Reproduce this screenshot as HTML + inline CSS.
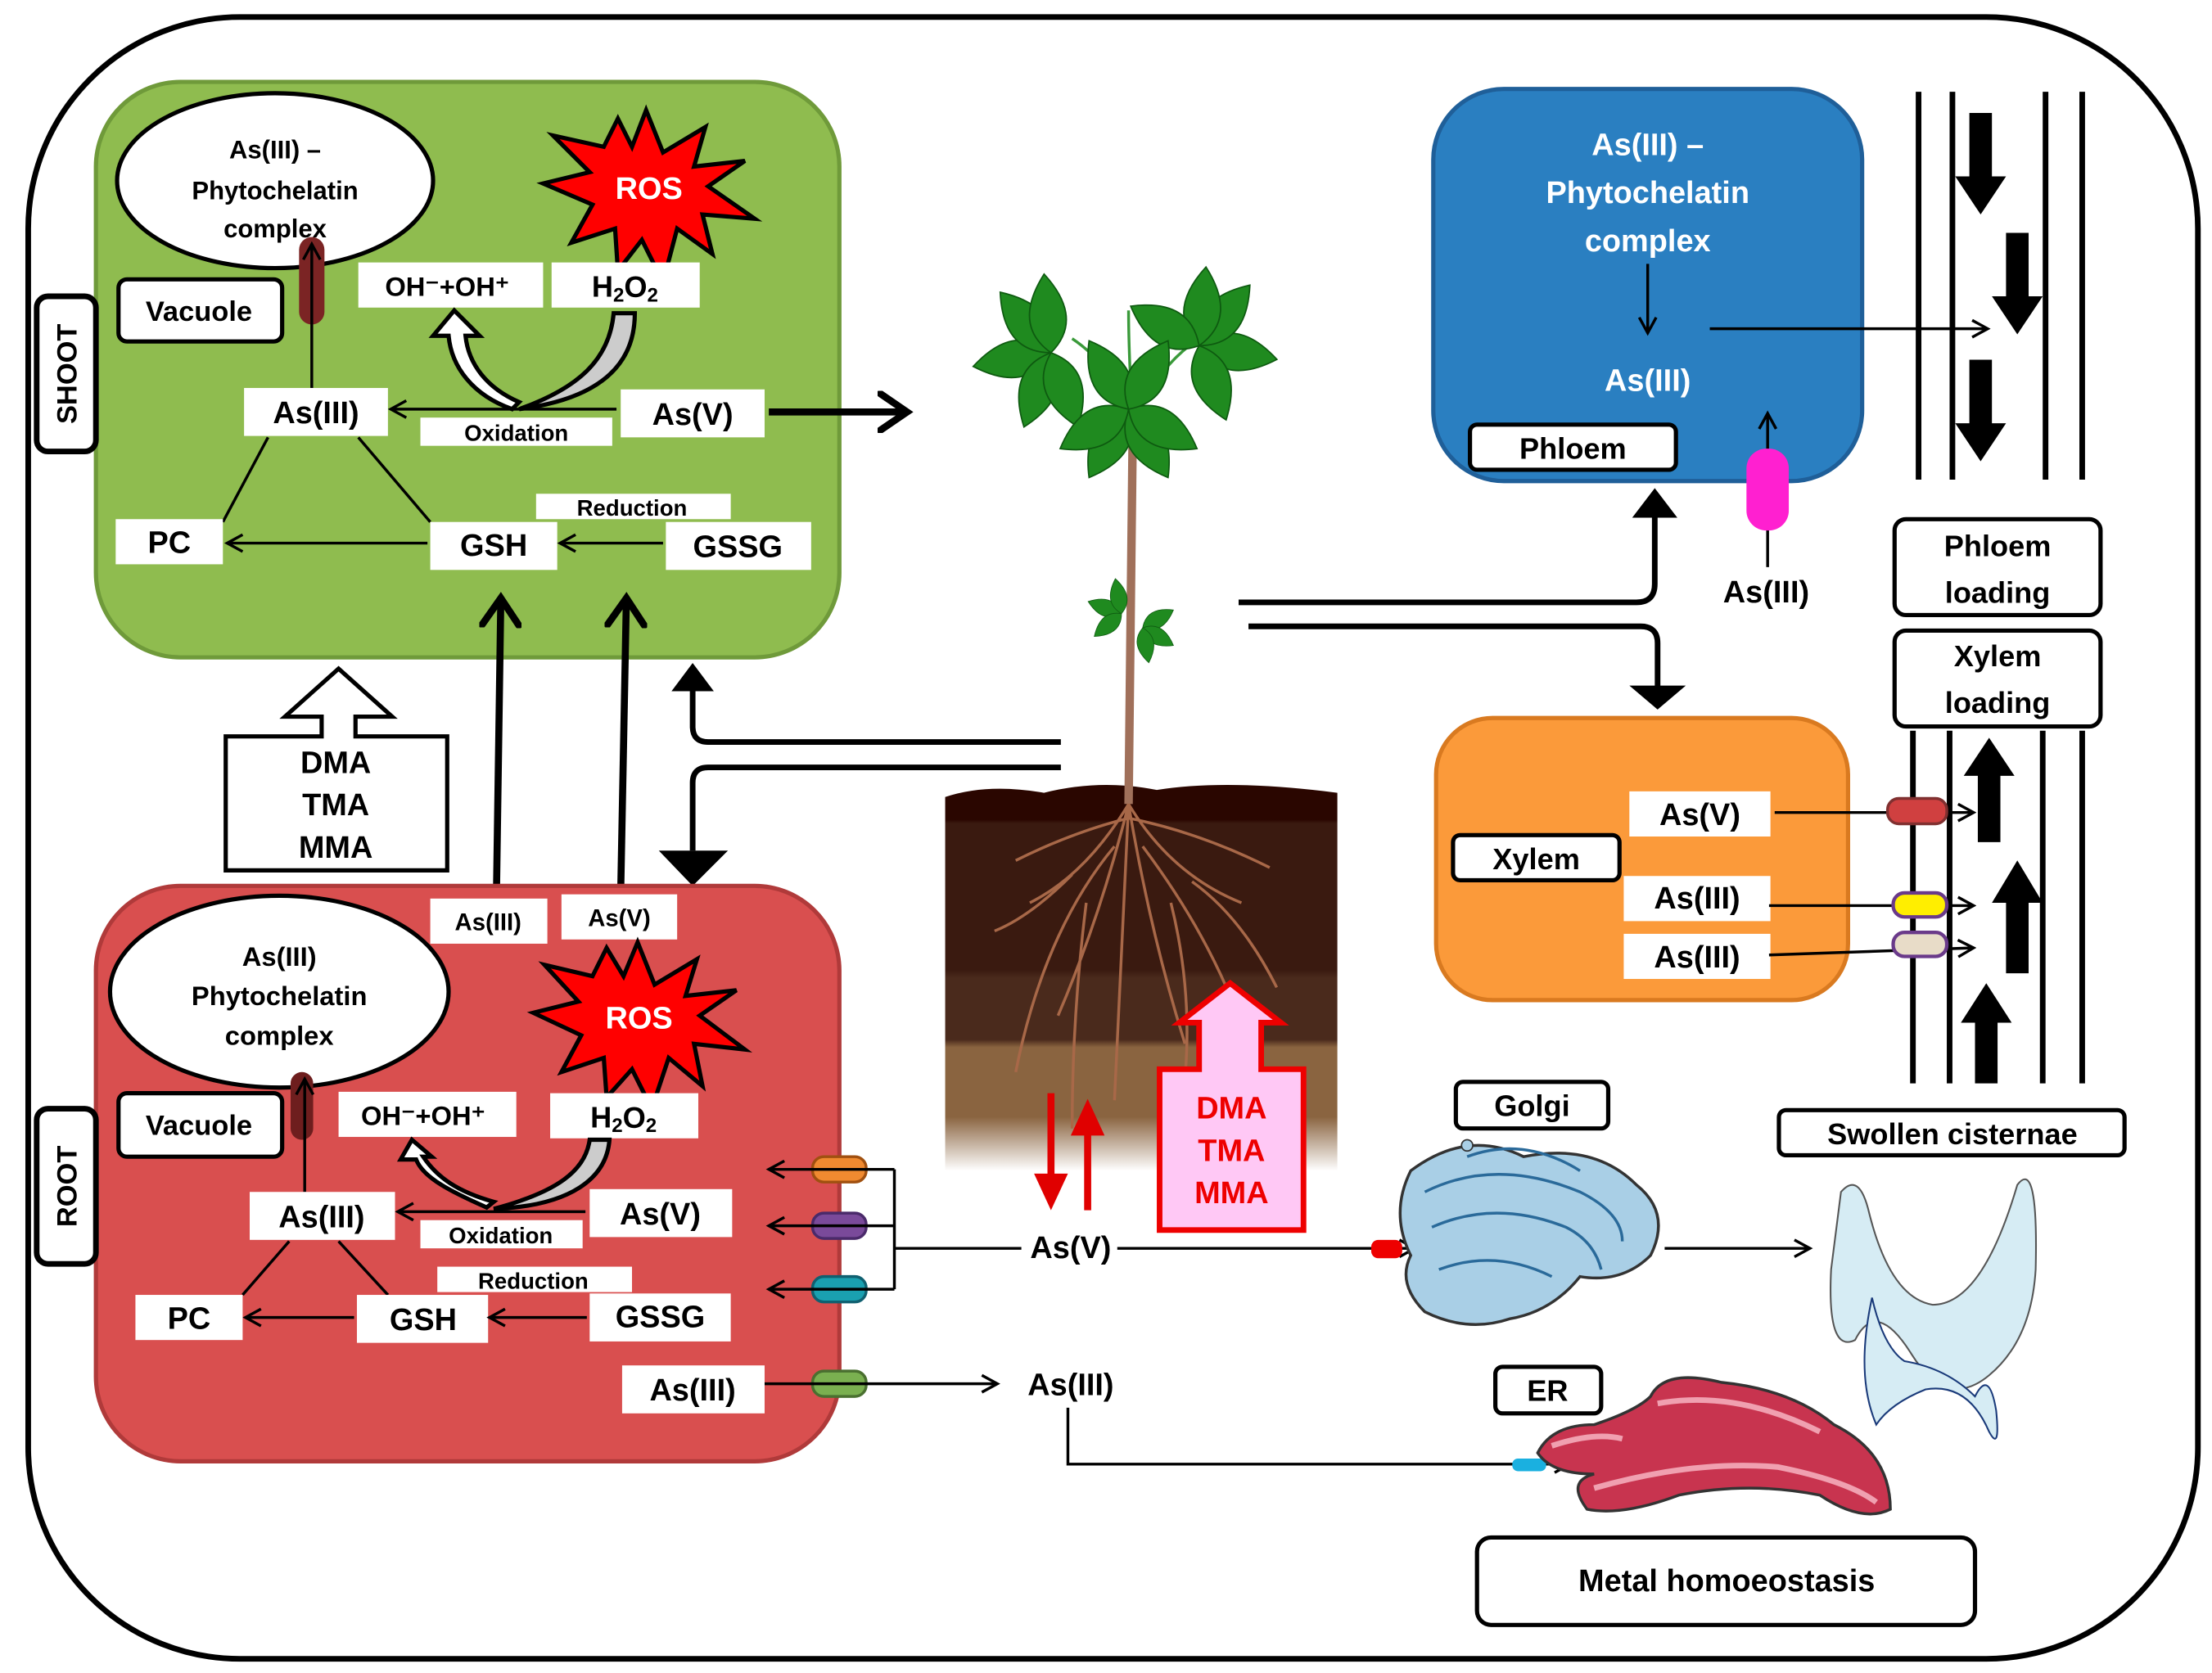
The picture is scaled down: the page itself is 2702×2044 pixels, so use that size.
<!DOCTYPE html>
<html><head><meta charset="utf-8"><style>
html,body{margin:0;padding:0;background:#fff}
svg{display:block}
text{font-family:"Liberation Sans",sans-serif;font-weight:bold;text-anchor:middle;dominant-baseline:central}
</style></head><body>
<svg width="2702" height="2044" viewBox="0 0 1568 1186" xmlns="http://www.w3.org/2000/svg">
<defs>
<marker id="ah" markerWidth="14" markerHeight="14" refX="11" refY="7" orient="auto" markerUnits="userSpaceOnUse"><path d="M1,1 L12,7 L1,13" fill="none" stroke="#000" stroke-width="2"/></marker>
<marker id="ahb" markerWidth="26" markerHeight="30" refX="20" refY="15" orient="auto" markerUnits="userSpaceOnUse"><path d="M2,2 L21,15 L2,28" fill="none" stroke="#000" stroke-width="5" stroke-linecap="round"/></marker>
<marker id="ahr" markerWidth="30" markerHeight="30" refX="15" refY="15" orient="auto" markerUnits="userSpaceOnUse"><path d="M2,3 L28,15 L2,27 Z" fill="#e00000"/></marker>
<linearGradient id="soil" x1="0" y1="0" x2="0" y2="1">
<stop offset="0" stop-color="#2a0600"/><stop offset="0.09" stop-color="#2a0600"/>
<stop offset="0.1" stop-color="#3a1a10"/><stop offset="0.48" stop-color="#3a1a10"/>
<stop offset="0.5" stop-color="#4a2a1c"/><stop offset="0.66" stop-color="#4a2a1c"/>
<stop offset="0.68" stop-color="#8a6440"/><stop offset="0.86" stop-color="#8a6440"/>
<stop offset="1" stop-color="#ffffff"/></linearGradient>
<path id="leaf" d="M0,0 Q26,-22 0,-56 Q-26,-22 0,0 Z" fill="#1f8a1f" stroke="#0e5a10" stroke-width="1"/>
</defs>

<rect x="20" y="12" width="1538" height="1164" rx="150" fill="#fff" stroke="#000" stroke-width="4"/>

<rect x="68" y="58" width="527" height="408" rx="60" fill="#8fbc4f" stroke="#6f9a3a" stroke-width="3"/>
<ellipse cx="195" cy="128" rx="112" ry="62" fill="#fff" stroke="#000" stroke-width="3"/>
<text x="195" y="106" font-size="18">As(III) –</text>
<text x="195" y="135" font-size="18">Phytochelatin</text>
<text x="195" y="162" font-size="18">complex</text>
<polygon points="458,78 470,108 500,90 492,118 528,114 502,132 535,155 498,152 505,180 480,162 470,200 455,170 438,192 436,162 405,172 420,145 385,130 418,122 392,96 428,104 438,84 448,104" fill="#f00" stroke="#000" stroke-width="3"/>
<text x="460" y="134" font-size="22" fill="#fff">ROS</text>
<rect x="84" y="198" width="116" height="44" rx="6" fill="#fff" stroke="#000" stroke-width="3"/>
<text x="141" y="221" font-size="20">Vacuole</text>
<rect x="212" y="168" width="18" height="62" rx="9" fill="#7b2424"/>
<line x1="221" y1="275" x2="221" y2="174" stroke="#000" stroke-width="2" marker-end="url(#ah)"/>
<rect x="254" y="186" width="131" height="32" fill="#fff"/>
<text x="317" y="203" font-size="19">OH⁻+OH⁺</text>
<rect x="391" y="186" width="105" height="32" fill="#fff"/>
<text x="443" y="203" font-size="21">H<tspan font-size="14" dy="6">2</tspan><tspan dy="-6">O</tspan><tspan font-size="14" dy="6">2</tspan></text>
<path d="M363,290 C335,280 320,260 318,238 L307,238 L322,220 L340,238 L330,238 C332,258 345,275 368,285 Z" fill="#fff" stroke="#000" stroke-width="3"/>
<path d="M435,222 L450,222 C450,255 430,282 368,290 C410,275 432,255 435,222 Z" fill="#ccc" stroke="#000" stroke-width="3"/>
<rect x="173" y="275" width="102" height="34" fill="#fff"/>
<text x="224" y="293" font-size="22">As(III)</text>
<rect x="440" y="276" width="102" height="34" fill="#fff"/>
<text x="491" y="294" font-size="22">As(V)</text>
<line x1="437" y1="290" x2="278" y2="290" stroke="#000" stroke-width="2" marker-end="url(#ah)"/>
<rect x="298" y="296" width="136" height="20" fill="#fff"/>
<text x="366" y="307" font-size="16">Oxidation</text>
<line x1="190" y1="310" x2="158" y2="370" stroke="#000" stroke-width="2"/>
<line x1="254" y1="310" x2="305" y2="370" stroke="#000" stroke-width="2"/>
<rect x="82" y="368" width="76" height="32" fill="#fff"/>
<text x="120" y="385" font-size="22">PC</text>
<rect x="305" y="370" width="90" height="34" fill="#fff"/>
<text x="350" y="387" font-size="22">GSH</text>
<rect x="472" y="370" width="103" height="34" fill="#fff"/>
<text x="523" y="388" font-size="22">GSSG</text>
<rect x="380" y="350" width="138" height="18" fill="#fff"/>
<text x="448" y="360" font-size="16">Reduction</text>
<line x1="470" y1="385" x2="398" y2="385" stroke="#000" stroke-width="2" marker-end="url(#ah)"/>
<line x1="303" y1="385" x2="162" y2="385" stroke="#000" stroke-width="2" marker-end="url(#ah)"/>
<line x1="545" y1="292" x2="642" y2="292" stroke="#000" stroke-width="5" marker-end="url(#ahb)"/>
<rect x="26" y="210" width="42" height="110" rx="8" fill="#fff" stroke="#000" stroke-width="4"/>
<text x="48" y="265" font-size="20" transform="rotate(-90 48 265)">SHOOT</text>

<line x1="352" y1="628" x2="355" y2="425" stroke="#000" stroke-width="5" marker-end="url(#ahb)"/>
<line x1="440" y1="632" x2="444" y2="425" stroke="#000" stroke-width="5" marker-end="url(#ahb)"/>

<polygon points="160,522 228,522 228,508 202,508 240,474 278,508 252,508 252,522 317,522 317,617 160,617" fill="#fff" stroke="#000" stroke-width="3"/>
<text x="238" y="541" font-size="22">DMA</text>
<text x="238" y="571" font-size="22">TMA</text>
<text x="238" y="601" font-size="22">MMA</text>

<path d="M752,526 L502,526 Q491,526 491,515 L491,490" fill="none" stroke="#000" stroke-width="4"/>
<polygon points="476,490 491,470 506,490" fill="#000"/>
<path d="M752,544 L502,544 Q491,544 491,555 L491,603" fill="none" stroke="#000" stroke-width="4"/>
<polygon points="467,603 491,628 516,603" fill="#000"/>
<path d="M878,427 L1160,427 Q1173,427 1173,414 L1173,365" fill="none" stroke="#000" stroke-width="4"/>
<polygon points="1157,367 1173,346 1189,367" fill="#000"/>
<path d="M885,444 L1163,444 Q1175,444 1175,456 L1175,488" fill="none" stroke="#000" stroke-width="4"/>
<polygon points="1155,486 1175,503 1195,486" fill="#000"/>

<path d="M670,565 Q700,555 740,562 Q780,552 820,560 Q870,552 948,562 L948,830 L670,830 Z" fill="url(#soil)"/>
<line x1="803" y1="300" x2="800" y2="570" stroke="#a0705a" stroke-width="6"/>
<g stroke="#a86848" stroke-width="2" fill="none">
<path d="M800,570 Q770,620 730,640"/><path d="M800,570 Q830,620 880,640"/><path d="M800,570 Q780,650 750,720"/><path d="M800,570 Q815,660 840,740"/><path d="M800,570 Q795,670 790,780"/><path d="M790,600 Q740,660 720,760"/><path d="M810,600 Q870,680 890,760"/><path d="M770,640 Q760,720 760,800"/><path d="M830,640 Q850,720 835,800"/><path d="M800,580 Q760,590 720,610"/><path d="M800,580 Q850,590 900,615"/><path d="M760,620 Q730,650 705,660"/><path d="M845,625 Q880,650 905,700"/>
</g>
<g stroke="#3a9a3a" stroke-width="2" fill="none">
<path d="M803,300 Q790,260 760,240"/><path d="M803,300 Q820,260 850,240"/><path d="M803,300 Q800,250 800,220"/>
</g>
<g>
<use href="#leaf" transform="translate(745,250) rotate(-100)"/>
<use href="#leaf" transform="translate(745,250) rotate(-160)"/>
<use href="#leaf" transform="translate(745,250) rotate(160)"/>
<use href="#leaf" transform="translate(745,250) rotate(-40)"/>
<use href="#leaf" transform="translate(745,250) rotate(-5)"/>
<use href="#leaf" transform="translate(850,245) rotate(100)"/>
<use href="#leaf" transform="translate(850,245) rotate(160)"/>
<use href="#leaf" transform="translate(850,245) rotate(40)"/>
<use href="#leaf" transform="translate(850,245) rotate(5)"/>
<use href="#leaf" transform="translate(850,245) rotate(-60)"/>
<use href="#leaf" transform="translate(800,290) rotate(-150)"/>
<use href="#leaf" transform="translate(800,290) rotate(150)"/>
<use href="#leaf" transform="translate(800,290) rotate(-120)"/>
<use href="#leaf" transform="translate(800,290) rotate(120)"/>
<use href="#leaf" transform="translate(800,290) rotate(-30)"/>
<use href="#leaf" transform="translate(800,290) rotate(30)"/>
<use href="#leaf" transform="translate(795,435) rotate(-70) scale(0.45)"/>
<use href="#leaf" transform="translate(795,435) rotate(-130) scale(0.45)"/>
<use href="#leaf" transform="translate(795,435) rotate(-10) scale(0.45)"/>
<use href="#leaf" transform="translate(810,445) rotate(60) scale(0.45)"/>
<use href="#leaf" transform="translate(810,445) rotate(120) scale(0.45)"/>
<use href="#leaf" transform="translate(810,445) rotate(170) scale(0.45)"/>
</g>

<rect x="68" y="628" width="527" height="408" rx="60" fill="#d94f4f" stroke="#b03a3a" stroke-width="3"/>
<ellipse cx="198" cy="703" rx="120" ry="68" fill="#fff" stroke="#000" stroke-width="3"/>
<text x="198" y="678" font-size="19">As(III)</text>
<text x="198" y="706" font-size="19">Phytochelatin</text>
<text x="198" y="734" font-size="19">complex</text>
<rect x="305" y="637" width="83" height="32" fill="#fff"/>
<text x="346" y="654" font-size="17">As(III)</text>
<rect x="398" y="634" width="82" height="32" fill="#fff"/>
<text x="439" y="651" font-size="17">As(V)</text>
<polygon points="452,668 464,698 494,680 486,706 522,702 496,720 528,744 492,740 498,770 474,750 462,786 448,758 430,778 428,750 398,760 412,734 378,718 410,710 386,684 420,692 430,672 442,692" fill="#f00" stroke="#000" stroke-width="3"/>
<text x="453" y="722" font-size="22" fill="#fff">ROS</text>
<rect x="84" y="775" width="116" height="45" rx="6" fill="#fff" stroke="#000" stroke-width="3"/>
<text x="141" y="798" font-size="20">Vacuole</text>
<rect x="206" y="760" width="16" height="48" rx="8" fill="#6e1e1e"/>
<line x1="216" y1="845" x2="216" y2="766" stroke="#000" stroke-width="2" marker-end="url(#ah)"/>
<rect x="240" y="774" width="126" height="32" fill="#fff"/>
<text x="300" y="791" font-size="19">OH⁻+OH⁺</text>
<rect x="390" y="775" width="105" height="32" fill="#fff"/>
<text x="442" y="792" font-size="21">H<tspan font-size="14" dy="6">2</tspan><tspan dy="-6">O</tspan><tspan font-size="14" dy="6">2</tspan></text>
<path d="M345,856 C320,845 300,835 295,822 L284,822 L292,808 L306,820 L300,820 C310,835 325,845 350,852 Z" fill="#fff" stroke="#000" stroke-width="3"/>
<path d="M418,808 L432,808 C430,835 405,855 350,857 C395,845 415,830 418,808 Z" fill="#ccc" stroke="#000" stroke-width="3"/>
<rect x="177" y="845" width="103" height="34" fill="#fff"/>
<text x="228" y="863" font-size="22">As(III)</text>
<rect x="418" y="843" width="101" height="34" fill="#fff"/>
<text x="468" y="861" font-size="22">As(V)</text>
<line x1="415" y1="859" x2="283" y2="859" stroke="#000" stroke-width="2" marker-end="url(#ah)"/>
<rect x="298" y="865" width="115" height="20" fill="#fff"/>
<text x="355" y="876" font-size="16">Oxidation</text>
<rect x="310" y="898" width="138" height="18" fill="#fff"/>
<text x="378" y="908" font-size="16">Reduction</text>
<line x1="205" y1="880" x2="172" y2="918" stroke="#000" stroke-width="2"/>
<line x1="240" y1="880" x2="275" y2="918" stroke="#000" stroke-width="2"/>
<rect x="96" y="918" width="76" height="32" fill="#fff"/>
<text x="134" y="935" font-size="22">PC</text>
<rect x="253" y="918" width="93" height="34" fill="#fff"/>
<text x="300" y="936" font-size="22">GSH</text>
<rect x="418" y="917" width="100" height="34" fill="#fff"/>
<text x="468" y="934" font-size="22">GSSG</text>
<line x1="416" y1="934" x2="348" y2="934" stroke="#000" stroke-width="2" marker-end="url(#ah)"/>
<line x1="251" y1="934" x2="175" y2="934" stroke="#000" stroke-width="2" marker-end="url(#ah)"/>
<rect x="441" y="968" width="101" height="34" fill="#fff"/>
<text x="491" y="986" font-size="22">As(III)</text>
<rect x="26" y="786" width="42" height="110" rx="8" fill="#fff" stroke="#000" stroke-width="4"/>
<text x="48" y="841" font-size="20" transform="rotate(-90 48 841)">ROOT</text>

<rect x="576" y="820" width="38" height="18" rx="8" fill="#f08a30" stroke="#a05010" stroke-width="2"/>
<rect x="576" y="860" width="38" height="18" rx="8" fill="#7a4a9a" stroke="#4a2a6a" stroke-width="2"/>
<rect x="576" y="905" width="38" height="18" rx="8" fill="#1aa0b0" stroke="#106070" stroke-width="2"/>
<rect x="576" y="972" width="38" height="18" rx="8" fill="#7ab050" stroke="#4a7030" stroke-width="2"/>
<path d="M634,829 L634,914" stroke="#000" stroke-width="2"/>
<line x1="634" y1="829" x2="546" y2="829" stroke="#000" stroke-width="2" marker-end="url(#ah)"/>
<line x1="634" y1="869" x2="546" y2="869" stroke="#000" stroke-width="2" marker-end="url(#ah)"/>
<line x1="634" y1="914" x2="546" y2="914" stroke="#000" stroke-width="2" marker-end="url(#ah)"/>
<line x1="634" y1="885" x2="724" y2="885" stroke="#000" stroke-width="2"/>
<text x="759" y="885" font-size="22">As(V)</text>
<line x1="792" y1="885" x2="1002" y2="885" stroke="#000" stroke-width="2" marker-end="url(#ah)"/>
<rect x="972" y="879" width="22" height="13" rx="5" fill="#e00"/>
<line x1="542" y1="981" x2="706" y2="981" stroke="#000" stroke-width="2" marker-end="url(#ah)"/>
<text x="759" y="982" font-size="22">As(III)</text>
<path d="M757,998 L757,1038 L1112,1038" fill="none" stroke="#000" stroke-width="2" marker-end="url(#ah)"/>
<rect x="1072" y="1034" width="24" height="9" rx="4" fill="#1ab0e0"/>

<line x1="745" y1="775" x2="745" y2="845" stroke="#e00000" stroke-width="5" marker-end="url(#ahr)"/>
<line x1="771" y1="858" x2="771" y2="792" stroke="#e00000" stroke-width="5" marker-end="url(#ahr)"/>
<polygon points="822,758 850,758 850,725 836,725 872,697 908,725 894,725 894,758 924,758 924,872 822,872" fill="#ffc8f5" stroke="#e00" stroke-width="4"/>
<text x="873" y="786" font-size="22" fill="#e00">DMA</text>
<text x="873" y="816" font-size="22" fill="#e00">TMA</text>
<text x="873" y="846" font-size="22" fill="#e00">MMA</text>

<g stroke="#333" stroke-width="2">
<path d="M1000,830 Q1040,800 1080,820 Q1130,810 1160,840 Q1185,860 1170,890 Q1150,910 1120,905 Q1100,930 1070,935 Q1040,945 1010,930 Q990,910 1000,890 Q985,860 1000,830 Z" fill="#a9cfe6"/>
<path d="M1010,845 Q1060,820 1120,845 Q1150,860 1150,880" fill="none" stroke="#2a6a9a"/>
<path d="M1015,870 Q1060,850 1110,870 Q1130,880 1135,900" fill="none" stroke="#2a6a9a"/>
<path d="M1020,900 Q1060,885 1100,905" fill="none" stroke="#2a6a9a"/>
<path d="M1040,820 Q1080,805 1120,830" fill="none" stroke="#2a6a9a"/>
</g>
<circle cx="1040" cy="812" r="4" fill="#a9cfe6" stroke="#333"/>
<line x1="1180" y1="885" x2="1282" y2="885" stroke="#000" stroke-width="2" marker-end="url(#ah)"/>

<path d="M1305,845 Q1318,830 1325,860 Q1340,920 1370,925 Q1405,925 1430,840 Q1445,820 1443,900 Q1440,950 1410,975 Q1380,1000 1355,960 Q1330,920 1315,950 Q1295,960 1298,900 Z" fill="#d6ecf4" stroke="#555" stroke-width="1.2"/>
<path d="M1327,920 Q1335,955 1350,965 Q1380,970 1400,990 Q1410,970 1415,1000 Q1418,1030 1410,1015 Q1395,980 1365,985 Q1340,995 1330,1010 Q1315,975 1327,920 Z" fill="#d6ecf4" stroke="#1a3a7a" stroke-width="1.2"/>

<g stroke="#333" stroke-width="2">
<path d="M1170,990 Q1180,970 1220,980 Q1270,985 1300,1010 Q1340,1030 1340,1070 Q1320,1080 1290,1060 Q1240,1050 1190,1060 Q1150,1075 1125,1070 Q1110,1050 1130,1045 Q1100,1045 1090,1030 Q1100,1010 1130,1010 Q1160,1000 1170,990 Z" fill="#c8344f"/>
<path d="M1175,995 Q1230,985 1290,1015" fill="none" stroke="#f0a0b0" stroke-width="4"/>
<path d="M1130,1055 Q1200,1035 1260,1040 Q1310,1050 1330,1065" fill="none" stroke="#f0a0b0" stroke-width="4"/>
<path d="M1100,1025 Q1130,1015 1150,1020" fill="none" stroke="#f0a0b0" stroke-width="4"/>
</g>

<rect x="1032" y="767" width="108" height="33" rx="5" fill="#fff" stroke="#000" stroke-width="3"/>
<text x="1086" y="784" font-size="21">Golgi</text>
<rect x="1261" y="787" width="245" height="32" rx="5" fill="#fff" stroke="#000" stroke-width="3"/>
<text x="1384" y="804" font-size="21">Swollen cisternae</text>
<rect x="1060" y="969" width="75" height="33" rx="5" fill="#fff" stroke="#000" stroke-width="3"/>
<text x="1097" y="986" font-size="21">ER</text>
<rect x="1047" y="1090" width="353" height="62" rx="10" fill="#fff" stroke="#000" stroke-width="3"/>
<text x="1224" y="1121" font-size="22">Metal homoeostasis</text>

<rect x="1016" y="63" width="304" height="278" rx="50" fill="#2a7fc1" stroke="#1f5f99" stroke-width="3"/>
<text x="1168" y="103" font-size="22" fill="#fff">As(III) –</text>
<text x="1168" y="137" font-size="22" fill="#fff">Phytochelatin</text>
<text x="1168" y="171" font-size="22" fill="#fff">complex</text>
<line x1="1168" y1="187" x2="1168" y2="235" stroke="#000" stroke-width="2" marker-end="url(#ah)"/>
<text x="1168" y="270" font-size="22" fill="#fff">As(III)</text>
<rect x="1042" y="301" width="146" height="32" rx="5" fill="#fff" stroke="#000" stroke-width="3"/>
<text x="1115" y="318" font-size="21">Phloem</text>
<line x1="1212" y1="233" x2="1408" y2="233" stroke="#000" stroke-width="2" marker-end="url(#ah)"/>
<line x1="1253" y1="402" x2="1253" y2="294" stroke="#000" stroke-width="2" marker-end="url(#ah)"/>
<rect x="1238" y="318" width="30" height="58" rx="14" fill="#ff20d0"/>
<text x="1252" y="420" font-size="22">As(III)</text>

<g stroke="#000" stroke-width="4">
<line x1="1360" y1="65" x2="1360" y2="340"/><line x1="1384" y1="65" x2="1384" y2="340"/>
<line x1="1450" y1="65" x2="1450" y2="340"/><line x1="1476" y1="65" x2="1476" y2="340"/>
<line x1="1356" y1="518" x2="1356" y2="768"/><line x1="1382" y1="518" x2="1382" y2="768"/>
<line x1="1448" y1="518" x2="1448" y2="768"/><line x1="1476" y1="518" x2="1476" y2="768"/>
</g>
<polygon points="1396,80 1412,80 1412,125 1422,125 1404,152 1386,125 1396,125" fill="#000"/>
<polygon points="1422,165 1438,165 1438,210 1448,210 1430,237 1412,210 1422,210" fill="#000"/>
<polygon points="1396,255 1412,255 1412,300 1422,300 1404,327 1386,300 1396,300" fill="#000"/>
<polygon points="1402,597 1418,597 1418,550 1428,550 1410,523 1392,550 1402,550" fill="#000"/>
<polygon points="1422,690 1438,690 1438,640 1448,640 1430,610 1412,640 1422,640" fill="#000"/>
<polygon points="1400,768 1416,768 1416,725 1426,725 1408,697 1390,725 1400,725" fill="#000"/>
<rect x="1343" y="368" width="146" height="68" rx="8" fill="#fff" stroke="#000" stroke-width="3"/>
<text x="1416" y="387" font-size="21">Phloem</text>
<text x="1416" y="420" font-size="21">loading</text>
<rect x="1343" y="447" width="146" height="68" rx="8" fill="#fff" stroke="#000" stroke-width="3"/>
<text x="1416" y="465" font-size="21">Xylem</text>
<text x="1416" y="498" font-size="21">loading</text>

<rect x="1018" y="509" width="292" height="200" rx="40" fill="#fb9a3a" stroke="#d97a20" stroke-width="3"/>
<rect x="1030" y="592" width="118" height="32" rx="5" fill="#fff" stroke="#000" stroke-width="3"/>
<text x="1089" y="609" font-size="21">Xylem</text>
<rect x="1155" y="561" width="100" height="32" fill="#fff"/>
<text x="1205" y="578" font-size="22">As(V)</text>
<rect x="1151" y="621" width="104" height="32" fill="#fff"/>
<text x="1203" y="637" font-size="22">As(III)</text>
<rect x="1151" y="662" width="104" height="32" fill="#fff"/>
<text x="1203" y="679" font-size="22">As(III)</text>
<line x1="1258" y1="576" x2="1398" y2="576" stroke="#000" stroke-width="2" marker-end="url(#ah)"/>
<line x1="1254" y1="642" x2="1398" y2="642" stroke="#000" stroke-width="2" marker-end="url(#ah)"/>
<line x1="1254" y1="677" x2="1398" y2="672" stroke="#000" stroke-width="2" marker-end="url(#ah)"/>
<rect x="1338" y="566" width="42" height="18" rx="8" fill="#d04040" stroke="#803030" stroke-width="2"/>
<rect x="1342" y="633" width="38" height="17" rx="8" fill="#ffee00" stroke="#6a3a8a" stroke-width="2.5"/>
<rect x="1342" y="661" width="38" height="17" rx="8" fill="#e8dcc8" stroke="#6a3a8a" stroke-width="2.5"/>
</svg>
</body></html>
